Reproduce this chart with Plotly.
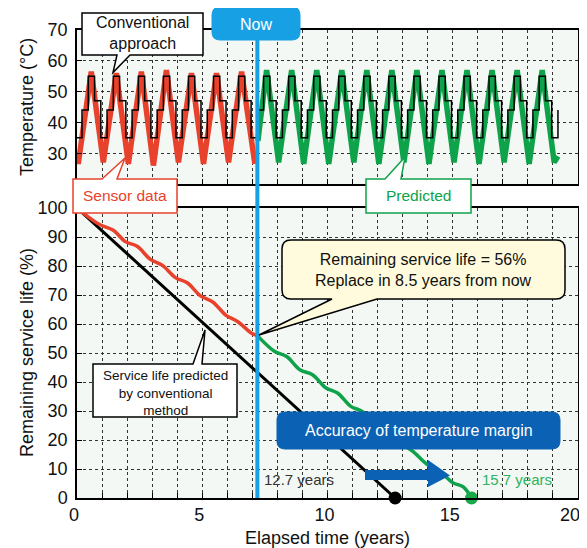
import plotly.graph_objects as go

# ---------------- data ----------------
# Top panel: measured (sensor) temperature, predicted temperature, conventional step profile
sensor_t = [0.0, 0.05, 0.57, 1.05, 1.57, 2.05, 2.57, 3.05, 3.57, 4.05, 4.57, 5.05, 5.57, 6.05, 6.57, 7.1]
sensor_temp = [30, 26.5, 56.5, 27, 56, 26.5, 56.5, 26, 57, 27, 56, 26.5, 56, 27, 56.5, 26.5]

pred_t = [7.22, 7.57, 8.05, 8.57, 9.05, 9.57, 10.05, 10.57, 11.05, 11.57, 12.05, 12.57, 13.05,
          13.57, 14.05, 14.57, 15.05, 15.57, 16.05, 16.57, 17.05, 17.57, 18.05, 18.57, 19.05, 19.2]
pred_temp = [34, 57, 27, 57, 26.5, 57, 26.5, 57, 27, 57, 26.5, 57, 27,
             57, 26.5, 57, 27, 57, 26.5, 57, 27, 57, 26.5, 57, 27, 29]

conv_t = [0, 0.2, 0.45, 0.7, 0.95, 1.2, 1.45, 1.7, 1.95, 2.2, 2.45, 2.7, 2.95, 3.2, 3.45, 3.7, 3.95,
          4.2, 4.45, 4.7, 4.95, 5.2, 5.45, 5.7, 5.95, 6.2, 6.45, 6.7, 6.95, 7.2, 7.45, 7.7, 7.95,
          8.2, 8.45, 8.7, 8.95, 9.2, 9.45, 9.7, 9.95, 10.2, 10.45, 10.7, 10.95, 11.2, 11.45, 11.7,
          11.95, 12.2, 12.45, 12.7, 12.95, 13.2, 13.45, 13.7, 13.95, 14.2, 14.45, 14.7, 14.95,
          15.2, 15.45, 15.7, 15.95, 16.2, 16.45, 16.7, 16.95, 17.2, 17.45, 17.7, 17.95, 18.2,
          18.45, 18.7, 18.95, 19.2]
conv_temp = [35,
             44, 55, 47, 35, 44, 55, 47, 35, 44, 55, 47, 35, 44, 55, 47, 35,
             44, 55, 47, 35, 44, 55, 47, 35, 44, 55, 47, 35, 44, 55, 47, 35,
             44, 55, 47, 35, 44, 55, 47, 35, 44, 55, 47, 35, 44, 55, 47, 35,
             44, 55, 47, 35, 44, 55, 47, 35, 44, 55, 47, 35, 44, 55, 47, 35,
             44, 55, 47, 35, 44, 55, 47, 35, 44, 55, 47, 35,
             44]

# Bottom panel: remaining service life (%)
conv_life_t = [0, 12.7]
conv_life = [100, 0]

sensor_life_t = [0, 0.5, 0.92, 1.45, 1.93, 2.4, 2.93, 3.4, 3.93, 4.4, 4.93, 5.42, 5.95, 6.42, 6.97, 7.2]
sensor_life = [100, 96.6, 94.2, 92.3, 88.4, 86.8, 82.3, 80.3, 76.0, 74.2, 69.7, 67.6, 63.0, 60.8, 56.8, 56]

pred_life_t = [7.2, 7.88, 8.37, 8.9, 9.4, 9.93, 10.4, 10.93, 11.4, 11.93, 12.4, 12.95, 13.42,
               13.97, 14.45, 15.0, 15.42, 15.75]
pred_life = [56, 50.6, 48.8, 44.2, 42.5, 38.0, 36.2, 31.6, 29.8, 25.2, 23.3, 18.7, 16.0,
             11.6, 9.4, 5.3, 3.8, 0]

now_year = 7.2
conv_end_year = 12.7
pred_end_year = 15.75

# x tick labels (only every 5 years is labelled)
year_ticks = list(range(0, 21))
year_ticktext = ['0', '', '', '', '', '5', '', '', '', '', '10', '', '', '', '', '15',
                 '', '', '', '', '20&nbsp;&nbsp;']

# ---------------- layout helpers ----------------
# the page has an 8px body margin, so the figure is drawn 8px smaller and offset
OFF = 8
W, H = 587 - OFF, 548 - OFF
PL, PT, PR, PB = 77, 30, 578, 498          # plot area in page pixels
ML, MT = PL - OFF, PT - OFF
MR = W - (PR - OFF)
MB = H - (PB - OFF)
PW = PR - PL
PH = PB - PT


def px(x):
    return (x - PL) / PW


def py(y):
    return (PB - y) / PH


def P(x, y):
    return f"{px(x):.5f},{py(y):.5f}"


def callout_path(x0, y0, x1, y1, r=0, tail=None):
    s = f"M {P(x0 + r, y0)}"
    if tail and tail[0] == 'top':
        _, a, b, tx, ty = tail
        s += f" L {P(a, y0)} L {P(tx, ty)} L {P(b, y0)}"
    s += f" L {P(x1 - r, y0)}"
    if r:
        s += f" Q {P(x1, y0)} {P(x1, y0 + r)}"
    s += f" L {P(x1, y1 - r)}"
    if r:
        s += f" Q {P(x1, y1)} {P(x1 - r, y1)}"
    if tail and tail[0] == 'bottom':
        _, a, b, tx, ty = tail
        s += f" L {P(b, y1)} L {P(tx, ty)} L {P(a, y1)}"
    s += f" L {P(x0 + r, y1)}"
    if r:
        s += f" Q {P(x0, y1)} {P(x0, y1 - r)}"
    s += f" L {P(x0, y0 + r)}"
    if r:
        s += f" Q {P(x0, y0)} {P(x0 + r, y0)}"
    s += " Z"
    return s


RED = '#e8412c'
GREEN = '#0ea24a'
NOWBLUE = '#18a0e4'
DARKBLUE = '#0b62b5'
FONT = 'Liberation Sans, Arial, sans-serif'

fig = go.Figure()

# top panel traces
fig.add_trace(go.Scatter(x=sensor_t, y=sensor_temp, mode='lines', line=dict(color=RED, width=5.5),
                         xaxis='x', yaxis='y', hoverinfo='skip'))
fig.add_trace(go.Scatter(x=pred_t, y=pred_temp, mode='lines', line=dict(color=GREEN, width=5.5),
                         xaxis='x', yaxis='y', hoverinfo='skip'))
fig.add_trace(go.Scatter(x=conv_t, y=conv_temp, mode='lines', line=dict(color='black', width=1.5, shape='hv'),
                         xaxis='x', yaxis='y', hoverinfo='skip'))

# bottom panel traces
fig.add_trace(go.Scatter(x=conv_life_t, y=conv_life, mode='lines', line=dict(color='black', width=3),
                         xaxis='x2', yaxis='y2', hoverinfo='skip'))
fig.add_trace(go.Scatter(x=sensor_life_t, y=sensor_life, mode='lines',
                         line=dict(color=RED, width=3.5, shape='spline', smoothing=1),
                         xaxis='x2', yaxis='y2', hoverinfo='skip'))
fig.add_trace(go.Scatter(x=pred_life_t, y=pred_life, mode='lines',
                         line=dict(color=GREEN, width=3.5, shape='spline', smoothing=1),
                         xaxis='x2', yaxis='y2', hoverinfo='skip'))
fig.add_trace(go.Scatter(x=[conv_end_year], y=[0], mode='markers', marker=dict(color='black', size=13),
                         xaxis='x2', yaxis='y2', cliponaxis=False, hoverinfo='skip'))
fig.add_trace(go.Scatter(x=[pred_end_year], y=[0], mode='markers', marker=dict(color='#19a84a', size=13),
                         xaxis='x2', yaxis='y2', cliponaxis=False, hoverinfo='skip'))

axis_common = dict(showline=True, linecolor='black', linewidth=1.5, mirror=True,
                   ticks='inside', ticklen=5, tickwidth=1, tickcolor='black',
                   showgrid=True, gridcolor='#333333', gridwidth=1, griddash='dot',
                   zeroline=False, ticklabeloverflow='allow',
                   tickfont=dict(size=18, color='#111', family=FONT))

fig.update_layout(
    width=W, height=H,
    margin=dict(l=ML, r=MR, t=MT, b=MB, autoexpand=False),
    paper_bgcolor='white', plot_bgcolor='#f3f8f4',
    showlegend=False,
    font=dict(family=FONT, color='#111'),
    xaxis=dict(domain=[0, 1], range=[0, 20], anchor='y', tickvals=year_ticks,
               showticklabels=False, **axis_common),
    yaxis=dict(domain=[py(184), 1], range=[20, 70], anchor='x', tickvals=[30, 40, 50, 60, 70],
               ticklabelstandoff=4, **axis_common),
    xaxis2=dict(domain=[0, 1], range=[0, 20], anchor='y2', tickvals=year_ticks,
                ticktext=year_ticktext, ticklabelshift=-3, **axis_common),
    yaxis2=dict(domain=[0, py(208)], range=[0, 100], anchor='x2', tickvals=list(range(0, 101, 10)),
                ticklabelstandoff=4, **axis_common),
)

shapes = []
# "Now" line
shapes.append(dict(type='line', xref='x2', yref='paper', x0=now_year, x1=now_year, y0=0, y1=py(20),
                   line=dict(color=NOWBLUE, width=4), layer='above'))
# Now box
shapes.append(dict(type='path', xref='paper', yref='paper', path=callout_path(212, 7, 300, 40, r=8),
                   fillcolor=NOWBLUE, line=dict(color=NOWBLUE, width=1), layer='above'))
# Conventional approach callout
shapes.append(dict(type='path', xref='paper', yref='paper',
                   path=callout_path(82, 13, 203, 55, r=0, tail=('bottom', 117, 130, 113, 72.5)),
                   fillcolor='white', line=dict(color='black', width=1.5), layer='above'))
# Sensor data callout
shapes.append(dict(type='path', xref='paper', yref='paper',
                   path=callout_path(73, 179, 177, 213, r=0, tail=('top', 102, 117, 125, 158)),
                   fillcolor='white', line=dict(color=RED, width=1.5), layer='above'))
# Predicted callout
shapes.append(dict(type='path', xref='paper', yref='paper',
                   path=callout_path(366, 179, 471, 213, r=0, tail=('top', 385, 401, 405, 157)),
                   fillcolor='white', line=dict(color=GREEN, width=1.5), layer='above'))
# Remaining service life callout
shapes.append(dict(type='path', xref='paper', yref='paper',
                   path=callout_path(282, 240, 565, 299, r=9, tail=('bottom', 332, 377, 259, 335)),
                   fillcolor='#fffbdc', line=dict(color='black', width=1.5), layer='above'))
# Service life predicted by conventional method callout
shapes.append(dict(type='path', xref='paper', yref='paper',
                   path=callout_path(93, 364, 237, 417, r=0, tail=('top', 193, 202, 205, 330)),
                   fillcolor='white', line=dict(color='black', width=1.5), layer='above'))
# Accuracy box
shapes.append(dict(type='path', xref='paper', yref='paper', path=callout_path(277, 412, 560, 449, r=8),
                   fillcolor=DARKBLUE, line=dict(color=DARKBLUE, width=1), layer='above'))
# Blue arrow
arrow = (f"M {P(365, 470)} L {P(428, 470)} L {P(428, 460)} L {P(450, 475.5)} "
         f"L {P(428, 487)} L {P(428, 480)} L {P(365, 480)} Z")
shapes.append(dict(type='path', xref='paper', yref='paper', path=arrow,
                   fillcolor=DARKBLUE, line=dict(color=DARKBLUE, width=0), layer='above'))
fig.update_layout(shapes=shapes)


def label(text, x, y, size=16, color='#111', xanchor='center', angle=0):
    fig.add_annotation(text=text, x=px(x), y=py(y), xref='paper', yref='paper', showarrow=False,
                       xanchor=xanchor, yanchor='middle', textangle=angle,
                       font=dict(size=size, color=color, family=FONT))


label('Now', 256, 24, size=16, color='white')
label('Conventional<br>approach', 142.5, 33, size=16)
label('Sensor data', 125, 196, size=15.5, color=RED)
label('Predicted', 418.5, 196, size=15.5, color=GREEN)
label('Remaining service life = 56%<br>Replace in 8.5 years from now', 423.5, 269.5, size=16)
label('Service life predicted<br>by conventional<br>method', 165, 392.5, size=13.5)
label('Accuracy of temperature margin', 418.5, 430.5, size=16, color='white')
label('12.7 years', 262, 479, size=15, color='#333', xanchor='left')
label('15.7 years', 480, 479, size=15, color='#2fb35c', xanchor='left')
label('Temperature (°C)', 27, 107, size=18, angle=-90)
label('Remaining service life (%)', 27, 353, size=18, angle=-90)
label('Elapsed time (years)', 327, 538, size=18)

fig.write_html('out.html')
